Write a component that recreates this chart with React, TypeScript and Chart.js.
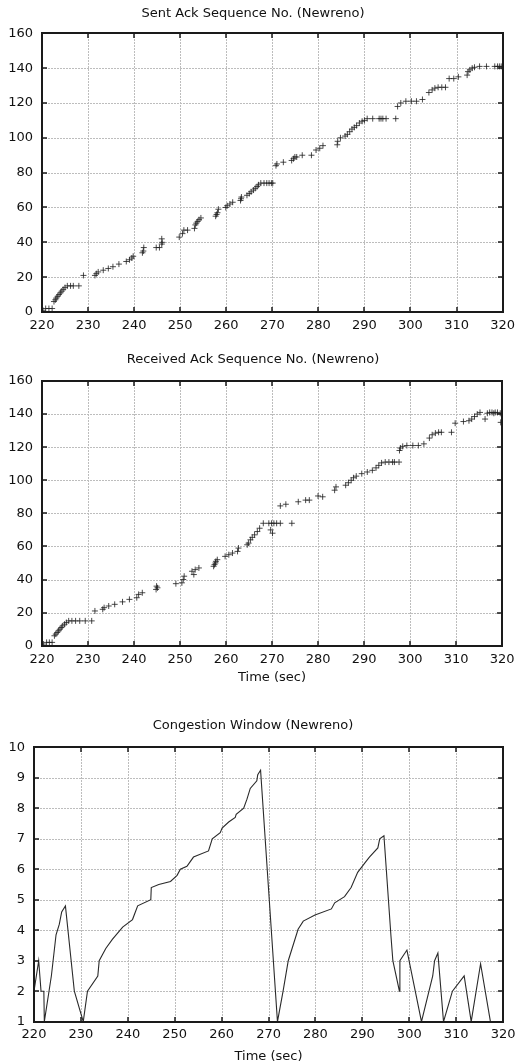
import React, { useEffect, useRef } from "react";
import { Chart, registerables } from "chart.js";

Chart.register(...registerables);

// ---- tick values ----
const timeTicks = [220, 230, 240, 250, 260, 270, 280, 290, 300, 310, 320];
const seqTicks = [0, 20, 40, 60, 80, 100, 120, 140, 160];
const cwndTicks = [1, 2, 3, 4, 5, 6, 7, 8, 9, 10];

// ---- Sent Ack Sequence No. ----
const sentTime = [
  220.2, 220.8, 221.5, 222.2, 222.6, 222.9, 223.1, 223.4, 223.7, 224.0, 224.3, 224.6, 225.0, 225.5, 226.2, 226.8, 228.0,
  229.0, 231.5, 231.8, 232.2, 233.3, 234.4, 235.4, 236.7, 238.3, 239.0, 239.5, 239.8, 241.8, 242.0, 242.1, 244.8, 245.5,
  246.0, 246.1, 246.0, 249.8, 250.5, 250.8, 251.6, 253.1, 253.3, 253.5, 253.8, 254.1, 254.5, 257.7, 257.9, 258.1, 258.3,
  259.9, 260.2, 260.8, 261.4, 263.1, 263.2, 263.3, 264.5, 265.0, 265.4, 265.9, 266.3, 266.7, 267.0, 267.5, 268.2, 268.8,
  269.3, 269.8, 270.1, 270.8, 271.0, 272.4, 274.2, 274.6, 274.9, 275.3, 276.5, 278.5, 279.5, 280.3, 281.0, 284.1, 284.2,
  284.8, 285.8, 286.3, 286.8, 287.3, 287.8, 288.3, 288.9, 289.5, 290.0, 290.6, 291.8, 293.2, 293.6, 294.0, 294.7, 296.8,
  297.2, 297.9, 299.0, 300.2, 301.3, 302.6, 304.0, 304.7, 305.3, 306.0, 306.8, 307.6, 308.4, 309.4, 310.4, 312.3, 312.5,
  312.9, 313.4, 313.9, 315.0, 316.5, 318.3, 318.9, 319.3, 319.7,
];
const sentSeq = [
  1, 2, 2, 2, 6, 7, 8, 9, 10, 11, 12, 13, 14, 15, 15, 15, 15,
  21, 21, 22, 23, 24, 25, 26, 27.5, 29, 30, 31, 32, 34, 35, 37, 37, 37,
  39, 40, 42, 43, 45, 47, 47, 48, 50, 51, 52, 53, 54, 55, 56, 57, 59,
  60, 61, 62, 63, 64, 65, 66, 67, 68, 69, 70, 71, 72, 73, 74, 74, 74,
  74, 74, 74, 84, 85, 86, 87, 88, 89, 89, 90, 90, 93, 94, 95.5, 96, 98,
  100, 101, 102, 103.5, 105, 106, 107, 108.5, 109.5, 110, 111, 111, 111, 111, 111, 111, 111,
  118, 120, 121, 121, 121, 122, 126, 127.5, 128.5, 129, 129, 129, 134, 134, 135, 136, 138,
  139, 140, 140.5, 141, 141, 141, 141, 141, 141,
];

// ---- Received Ack Sequence No. ----
const recvTime = [
  220.3, 221.0, 221.6, 222.2, 222.7, 223.0, 223.3, 223.6, 223.9, 224.2, 224.5, 224.9, 225.3, 225.8, 226.5, 227.3, 228.2,
  229.4, 230.8, 231.5, 233.2, 233.5, 234.5, 235.8, 237.5, 239.0, 240.6, 241.0, 241.8, 244.8, 244.9, 245.1, 249.1, 250.4,
  250.7, 250.9, 252.6, 253.0, 253.3, 254.1, 257.3, 257.5, 257.7, 257.8, 258.1, 259.8, 260.6, 261.4, 262.5, 262.7, 264.6,
  264.9, 265.3, 265.7, 266.2, 266.8, 267.3, 268.1, 269.3, 269.9, 270.4, 271.0, 271.8, 269.7, 270.1, 274.3, 271.8, 273.0,
  275.7, 277.3, 278.1, 280.0, 281.0, 283.6, 283.9, 286.0, 286.6, 287.2, 287.7, 288.3, 289.5, 290.7, 291.8, 292.6, 293.2,
  293.8, 294.6, 295.4, 296.2, 296.6, 297.6, 297.7, 297.9, 298.4, 299.3, 300.6, 301.8, 303.0, 304.2, 304.8, 305.5, 306.2,
  306.8, 309.0, 309.8, 311.6, 312.8, 313.4, 314.0, 314.6, 315.2, 316.3, 316.8, 317.3, 317.8, 318.2, 318.5, 319.0, 319.6,
  319.7,
];
const recvSeq = [
  1, 2, 2, 2, 6, 7, 8, 9, 10, 11, 12, 13, 14, 15, 15, 15, 15,
  15, 15, 21, 22, 23, 24, 25, 26.5, 28, 29, 31, 32, 34, 36, 35, 37.5, 38,
  40, 42, 45, 43, 46, 47, 48, 49, 50, 51, 52, 54, 55, 56, 57, 59, 61,
  62, 64, 65.5, 67, 69, 71, 74, 74, 74, 74, 74, 74, 70, 68, 74, 84.5, 85.5,
  87, 88, 88, 90.5, 90, 94, 96, 97, 98.5, 100, 101.5, 102.5, 104, 105, 106, 107.5, 109,
  110.5, 111, 111, 111, 111, 111, 118, 119.5, 120.5, 121, 121, 121, 122, 125.5, 127.5, 128.5, 129,
  129, 129, 134.5, 135.5, 136, 137, 138.5, 140, 141, 137, 140.5, 141, 141, 140.5, 141, 141, 140.5,
  135,
];

// ---- Congestion Window ----
const cwndTime = [
  220.0, 221.0, 221.5, 222.1, 222.2, 223.2, 223.7, 224.0, 224.7, 225.4, 225.9, 226.7, 228.6, 230.5,
  231.4, 233.6, 233.9, 235.3, 236.7, 238.9, 241.0, 242.1, 244.9, 245.0, 246.6, 249.1, 250.5, 251.2, 252.6,
  254.0, 257.2, 258.0, 259.7, 260.1, 261.5, 262.9, 263.1, 264.7, 265.4, 266.1, 267.5, 267.7, 268.3, 271.9,
  273.1, 274.2, 276.3, 277.4, 279.9, 283.4, 284.1, 286.2, 287.6, 289.0, 290.5, 291.5, 293.3, 293.7, 294.6,
  296.1, 296.5, 297.9, 298.0, 299.5, 302.6, 305.0, 305.4, 306.1, 307.3, 309.2, 311.7, 313.2, 315.2, 317.3,
];
const cwndValue = [
  2, 3, 2, 2, 1, 2, 2.5, 2.9, 3.85, 4.2, 4.6, 4.8, 2, 1,
  2, 2.5, 3, 3.4, 3.7, 4.1, 4.35, 4.8, 5, 5.4, 5.5, 5.6, 5.8, 6, 6.1,
  6.4, 6.6, 7, 7.2, 7.35, 7.55, 7.7, 7.8, 8, 8.3, 8.65, 8.9, 9.1, 9.25, 1,
  2, 3, 4.03, 4.3, 4.5, 4.7, 4.9, 5.1, 5.4, 5.9, 6.2, 6.4, 6.7, 7.0, 7.1,
  3.8, 3, 2, 3, 3.35, 1, 2.5, 3, 3.25, 1, 2, 2.5, 1, 2.9, 1,
];

const FONT = "'DejaVu Sans', 'Liberation Sans', sans-serif";
const TEXT = "#111";

// gnuplot-like frame: light grid behind the data, solid box, inward tick marks on all four sides
const framePlugin = {
  id: "gnuFrame",
  afterDatasetsDraw(chart: any) {
    const ctx = chart.ctx as CanvasRenderingContext2D;
    const a = chart.chartArea;
    const l = Math.round(a.left), r = Math.round(a.right), t = Math.round(a.top), b = Math.round(a.bottom);
    const xs = chart.scales["x"];
    const ys = chart.scales["y"];
    const L = 5;

    // grid, painted underneath what is already drawn
    ctx.save();
    ctx.globalCompositeOperation = "destination-over";
    ctx.fillStyle = "#bdbdbd";
    for (const v of timeTicks) {
      const px = Math.round(xs.getPixelForValue(v));
      if (px <= l + 1 || px >= r - 1) continue;
      for (let y = t; y < b; y += 3) ctx.fillRect(px, y, 1, 2);
    }
    for (const tk of ys.ticks) {
      const py = Math.round(ys.getPixelForValue(tk.value));
      if (py <= t + 1 || py >= b - 1) continue;
      for (let x = l; x < r; x += 3) ctx.fillRect(x, py, 2, 1);
    }
    ctx.restore();

    // tick marks and box
    ctx.save();
    ctx.globalCompositeOperation = "source-over";
    ctx.fillStyle = "#1a1a1a";
    for (const v of timeTicks) {
      const px = Math.round(xs.getPixelForValue(v));
      ctx.fillRect(px - 0.75, b - L, 1.5, L);
      ctx.fillRect(px - 0.75, t, 1.5, L);
    }
    for (const tk of ys.ticks) {
      const py = Math.round(ys.getPixelForValue(tk.value));
      ctx.fillRect(l, py - 0.75, L, 1.5);
      ctx.fillRect(r - L, py - 0.75, L, 1.5);
    }
    ctx.fillRect(l - 1, t - 1, r - l + 2, 2);
    ctx.fillRect(l - 1, b - 1, r - l + 2, 2);
    ctx.fillRect(l - 1, t - 1, 2, b - t + 2);
    ctx.fillRect(r - 1, t - 1, 2, b - t + 2);
    ctx.restore();
  },
};

type Cfg = {
  title: string;
  titlePad: { top: number; bottom: number };
  xTitle: string | null;
  xTitlePadBottom: number;
  xHeight: number;
  xTickPad: number;
  yWidth: number;
  yTicks: number[];
  yMin: number;
  yMax: number;
  line: boolean;
  xs: number[];
  ys: number[];
  width: number;
  height: number;
};

function Plot(props: Cfg) {
  const ref = useRef<HTMLCanvasElement | null>(null);
  useEffect(() => {
    if (!ref.current) return;
    const pts = props.xs.map((x, i) => ({ x, y: props.ys[i] }));
    const chart = new Chart(ref.current, {
      type: "scatter",
      data: {
        datasets: [
          props.line
            ? {
                data: pts,
                showLine: true,
                borderColor: "#2a2a2a",
                borderWidth: 1.1,
                pointRadius: 0,
                tension: 0,
              }
            : {
                data: pts,
                pointStyle: "cross",
                pointRadius: 3,
                borderColor: "rgba(30,30,30,0.8)",
                borderWidth: 1,
                backgroundColor: "rgba(30,30,30,0.8)",
              },
        ],
      } as any,
      options: {
        animation: false,
        responsive: false,
        devicePixelRatio: 1,
        layout: { padding: { left: 0, right: 15, top: 0, bottom: 0 } },
        plugins: {
          legend: { display: false },
          tooltip: { enabled: false },
          title: {
            display: true,
            text: props.title,
            color: TEXT,
            font: { family: FONT, size: 13, weight: "normal", lineHeight: 1.2 },
            padding: props.titlePad,
          },
        },
        scales: {
          x: {
            type: "linear",
            min: 220,
            max: 320,
            afterBuildTicks: (s: any) => {
              s.ticks = timeTicks.map((v) => ({ value: v }));
            },
            afterFit: (s: any) => {
              s.height = props.xHeight;
            },
            ticks: {
              color: TEXT,
              font: { family: FONT, size: 13 },
              padding: props.xTickPad,
              maxRotation: 0,
              autoSkip: false,
            },
            grid: { display: true, drawTicks: false, color: "rgba(0,0,0,0)" },
            border: { display: false },
            title: props.xTitle
              ? {
                  display: true,
                  text: props.xTitle,
                  color: TEXT,
                  font: { family: FONT, size: 13, lineHeight: 1.2 },
                  padding: { top: 0, bottom: props.xTitlePadBottom },
                }
              : { display: false },
          },
          y: {
            type: "linear",
            min: props.yMin,
            max: props.yMax,
            afterBuildTicks: (s: any) => {
              s.ticks = props.yTicks.map((v) => ({ value: v }));
            },
            afterFit: (s: any) => {
              s.width = props.yWidth;
            },
            ticks: {
              color: TEXT,
              font: { family: FONT, size: 13 },
              padding: 9,
              autoSkip: false,
            },
            grid: { display: true, drawTicks: false, color: "rgba(0,0,0,0)" },
            border: { display: false },
          },
        },
      } as any,
      plugins: [framePlugin],
    });
    return () => chart.destroy();
  }, []);
  return (
    <canvas
      ref={ref}
      width={props.width}
      height={props.height}
      style={{ display: "block", width: props.width, height: props.height }}
    />
  );
}

export default function App() {
  return (
    <div style={{ position: "absolute", left: 0, top: 0, width: 521, height: 1064, background: "#fff" }}>
      <div style={{ position: "absolute", left: 0, top: 0 }}>
        <Plot
          title="Sent Ack Sequence No. (Newreno)"
          titlePad={{ top: 6.2, bottom: 11.5 }}
          xTitle={null}
          xTitlePadBottom={0}
          xHeight={28}
          xTickPad={6}
          yWidth={42}
          yTicks={seqTicks}
          yMin={0}
          yMax={160}
          line={false}
          xs={sentTime}
          ys={sentSeq}
          width={521}
          height={340}
        />
      </div>
      <div style={{ position: "absolute", left: 0, top: 340 }}>
        <Plot
          title="Received Ack Sequence No. (Newreno)"
          titlePad={{ top: 12.2, bottom: 13.2 }}
          xTitle="Time (sec)"
          xTitlePadBottom={5}
          xHeight={44.3}
          xTickPad={6.5}
          yWidth={42}
          yTicks={seqTicks}
          yMin={0}
          yMax={160}
          line={false}
          xs={recvTime}
          ys={recvSeq}
          width={521}
          height={350}
        />
      </div>
      <div style={{ position: "absolute", left: 0, top: 690 }}>
        <Plot
          title="Congestion Window (Newreno)"
          titlePad={{ top: 28.2, bottom: 13.5 }}
          xTitle="Time (sec)"
          xTitlePadBottom={0}
          xHeight={42.3}
          xTickPad={5.5}
          yWidth={34}
          yTicks={cwndTicks}
          yMin={1}
          yMax={10}
          line={true}
          xs={cwndTime}
          ys={cwndValue}
          width={521}
          height={374}
        />
      </div>
    </div>
  );
}
